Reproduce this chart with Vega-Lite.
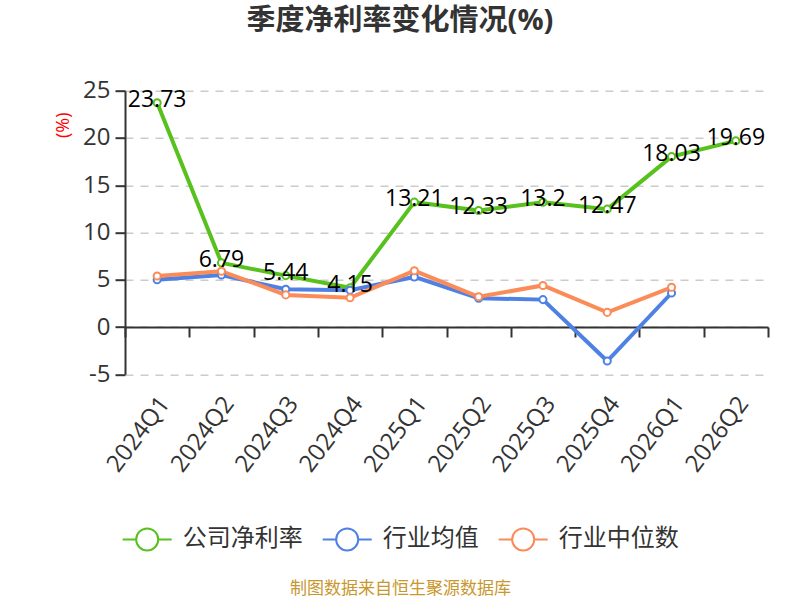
{
  "$schema": "https://vega.github.io/schema/vega-lite/v6.json",
  "autosize": "none",
  "width": 643,
  "height": 283.6,
  "padding": {"left": 125, "top": 90.7, "right": 32, "bottom": 225.7},
  "background": "white",
  "config": {
    "font": "Open Sans, Noto Sans CJK SC, sans-serif",
    "view": {"stroke": null}
  },
  "title": {
    "text": "季度净利率变化情况(%)",
    "fontSize": 29,
    "fontWeight": "bold",
    "color": "#333333",
    "anchor": "middle",
    "frame": "group",
    "baseline": "bottom",
    "offset": 14,
    "dx": -46.5
  },
  "data": {
    "values": [
      {"quarter": "2024Q1", "series": "公司净利率", "value": 23.73},
      {"quarter": "2024Q2", "series": "公司净利率", "value": 6.79},
      {"quarter": "2024Q3", "series": "公司净利率", "value": 5.44},
      {"quarter": "2024Q4", "series": "公司净利率", "value": 4.15},
      {"quarter": "2025Q1", "series": "公司净利率", "value": 13.21},
      {"quarter": "2025Q2", "series": "公司净利率", "value": 12.33},
      {"quarter": "2025Q3", "series": "公司净利率", "value": 13.2},
      {"quarter": "2025Q4", "series": "公司净利率", "value": 12.47},
      {"quarter": "2026Q1", "series": "公司净利率", "value": 18.03},
      {"quarter": "2026Q2", "series": "公司净利率", "value": 19.69},
      {"quarter": "2024Q1", "series": "行业均值", "value": 5.0},
      {"quarter": "2024Q2", "series": "行业均值", "value": 5.5},
      {"quarter": "2024Q3", "series": "行业均值", "value": 4.0},
      {"quarter": "2024Q4", "series": "行业均值", "value": 3.9},
      {"quarter": "2025Q1", "series": "行业均值", "value": 5.3},
      {"quarter": "2025Q2", "series": "行业均值", "value": 3.05},
      {"quarter": "2025Q3", "series": "行业均值", "value": 2.9},
      {"quarter": "2025Q4", "series": "行业均值", "value": -3.6},
      {"quarter": "2026Q1", "series": "行业均值", "value": 3.6},
      {"quarter": "2024Q1", "series": "行业中位数", "value": 5.4},
      {"quarter": "2024Q2", "series": "行业中位数", "value": 5.9},
      {"quarter": "2024Q3", "series": "行业中位数", "value": 3.4},
      {"quarter": "2024Q4", "series": "行业中位数", "value": 3.1},
      {"quarter": "2025Q1", "series": "行业中位数", "value": 5.95},
      {"quarter": "2025Q2", "series": "行业中位数", "value": 3.2},
      {"quarter": "2025Q3", "series": "行业中位数", "value": 4.4},
      {"quarter": "2025Q4", "series": "行业中位数", "value": 1.55},
      {"quarter": "2026Q1", "series": "行业中位数", "value": 4.2}
    ]
  },
  "encoding": {
    "y": {
      "field": "value",
      "type": "quantitative",
      "scale": {"domain": [-5, 25], "nice": false, "zero": false},
      "axis": {
        "values": [-5, 0, 5, 10, 15, 20, 25],
        "labelExpr": "'' + datum.value",
        "title": "(%)",
        "titleColor": "#ff0000",
        "titleFontSize": 18,
        "titleFontWeight": "normal",
        "titleAngle": -90,
        "titleX": -62,
        "titleY": 34,
        "titleAlign": "center",
        "titleBaseline": "middle",
        "labelFontSize": 24,
        "labelColor": "#333333",
        "labelPadding": 5,
        "tickSize": 10,
        "tickWidth": 2,
        "tickColor": "#333333",
        "domainColor": "#333333",
        "domainWidth": 2,
        "grid": true,
        "gridColor": "#cccccc",
        "gridDash": [8, 7],
        "gridWidth": 1.5
      }
    },
    "color": {
      "field": "series",
      "type": "nominal",
      "scale": {
        "domain": ["公司净利率", "行业均值", "行业中位数"],
        "range": ["#58c11e", "#4f81e4", "#fb8c58"]
      },
      "legend": {
        "title": null,
        "orient": "none",
        "legendX": -3.3,
        "legendY": 423,
        "direction": "horizontal",
        "symbolType": "M-1,0L-0.45,0M0.45,0L1,0M-0.45,0A0.45,0.45,0,1,1,0.45,0A0.45,0.45,0,1,1,-0.45,0",
        "symbolSize": 2401,
        "symbolStrokeWidth": 2,
        "symbolFillColor": "white",
        "labelFontSize": 24,
        "labelColor": "#333333",
        "labelOffset": 10,
        "columnPadding": 16,
        "labelLimit": 300
      }
    }
  },
  "layer": [
    {
      "mark": {"type": "line", "strokeWidth": 4},
      "encoding": {
        "x": {
          "field": "quarter",
          "type": "ordinal",
          "scale": {"type": "band", "paddingInner": 0, "paddingOuter": 0},
          "axis": {
            "orient": "bottom",
            "offset": -47.3,
            "labels": false,
            "title": null,
            "grid": false,
            "ticks": true,
            "tickBand": "extent",
            "tickSize": 10,
            "tickWidth": 2,
            "tickColor": "#333333",
            "domainColor": "#333333",
            "domainWidth": 2
          }
        }
      }
    },
    {
      "mark": {"type": "point", "filled": false, "fill": "white", "fillOpacity": 1, "opacity": 1, "strokeWidth": 2, "size": 50},
      "encoding": {
        "x": {
          "field": "quarter",
          "type": "ordinal",
          "axis": {
            "orient": "bottom",
            "domain": false,
            "ticks": false,
            "tickSize": 0,
            "grid": false,
            "labelAngle": -53,
            "labelAlign": "right",
            "labelBaseline": "middle",
            "labelFontSize": 24,
            "labelColor": "#333333",
            "labelPadding": 25,
            "labelOffset": 8,
            "title": "制图数据来自恒生聚源数据库",
            "titleColor": "#c8972e",
            "titleFontSize": 17,
            "titleFontWeight": "normal",
            "titleX": 275,
            "titleY": 213.7,
            "titleAlign": "center",
            "titleBaseline": "middle",
            "titleAngle": 0
          }
        }
      }
    },
    {
      "transform": [{"filter": "datum.series === '公司净利率'"}],
      "mark": {"type": "text", "fontSize": 23, "baseline": "middle", "align": "center", "dy": -3},
      "encoding": {
        "x": {"field": "quarter", "type": "ordinal", "axis": null},
        "text": {"field": "value", "type": "nominal"},
        "color": {"value": "#000000"}
      }
    }
  ],
  "resolve": {"axis": {"x": "independent"}}
}
